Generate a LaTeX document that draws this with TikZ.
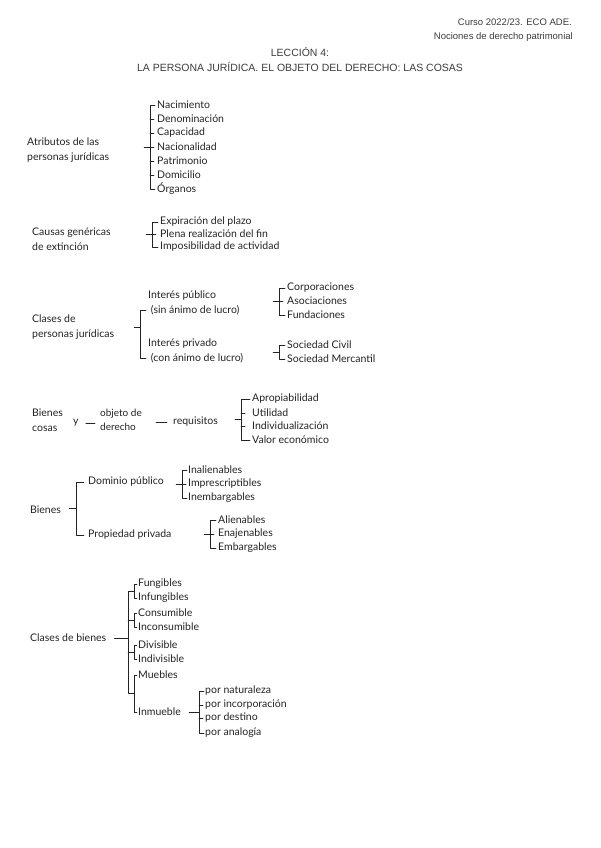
\documentclass[tikz,border=0pt]{standalone}
\usepackage{fontspec}
\setmainfont{Liberation Sans}
\newfontfamily\hand{Lato}
\usetikzlibrary{positioning, calc}
\definecolor{mygray}{RGB}{60,60,60}
\definecolor{myink}{RGB}{35,35,35}
\tikzset{
  head/.style={font=\fontsize{9.5}{11}\selectfont, text=mygray, inner sep=0pt},
  title/.style={font=\fontsize{10.5}{12}\selectfont, text=mygray, inner sep=0pt},
  topic/.style={font=\hand\fontsize{10.5}{14.5}\selectfont, text=myink,
    align=left, anchor=west, inner sep=0pt},
  item/.style={font=\hand\fontsize{10.5}{13}\selectfont, text=myink,
    anchor=west, inner sep=0pt},
  brk/.style={line width=0.5pt, color=myink, line cap=round, line join=round}
}

\begin{document}
\begin{tikzpicture}[x=1pt, y=-1pt]
  \useasboundingbox (0,0) rectangle (600,848);

  % Header
  \node[head, anchor=east] (curso) at (572,22) {Curso 2022/23. ECO ADE.};
  \node[head, anchor=east] (noc) at (573,37) {Nociones de derecho patrimonial};
  \node[title] (lec) at (300,52) {LECCIÓN 4:};
  \node[title] (tit) at (300,67) {LA PERSONA JURÍDICA. EL OBJETO DEL DERECHO: LAS COSAS};

  % Atributos
  \node[topic] (atr) at (27,150) {Atributos de las\\personas jurídicas};
  \node[item] (nac) at (157,105) {Nacimiento};
  \node[item] (den) at (157,119) {Denominación};
  \node[item] (cap) at (157,133) {Capacidad};
  \node[item] (nal) at (157,147) {Nacionalidad};
  \node[item] (pat) at (157,161) {Patrimonio};
  \node[item] (dom) at (157,175) {Domicilio};
  \node[item] (org) at (157,189) {Órganos};
  \draw[brk] ([xshift=-2pt]nac.west) -- ++(-5,0) |- ([xshift=-2pt]org.west);
  \draw[brk] ([xshift=-7pt]nal.west) -- ++(-6,0);
  \draw[brk] ([xshift=-7pt]den.west) -- ++(4,0);
  \draw[brk] ([xshift=-7pt]cap.west) -- ++(4,0);
  \draw[brk] ([xshift=-7pt]nal.west) -- ++(4,0);
  \draw[brk] ([xshift=-7pt]pat.west) -- ++(4,0);
  \draw[brk] ([xshift=-7pt]dom.west) -- ++(4,0);

  % Causas de extincion
  \node[topic] (cau) at (32,239) {Causas genéricas\\de extinción};
  \node[item] (exp) at (160,222) {Expiración del plazo};
  \node[item] (ple) at (160,234) {Plena realización del fin};
  \node[item] (imp) at (160,247) {Imposibilidad de actividad};
  \draw[brk] ([xshift=-2pt]exp.west) -- ++(-6,0) |- ([xshift=-2pt]imp.west);
  \draw[brk] ([xshift=-8pt]ple.west) -- ++(-6,0);
  \draw[brk] ([xshift=-8pt]ple.west) -- ++(4,0);

  % Clases de personas juridicas
  \node[topic] (cpj) at (32,327) {Clases de\\personas jurídicas};
  \node[topic] (ipu) at (148,303) {Interés público\\\ (sin ánimo de lucro)};
  \node[topic] (ipr) at (148,351) {Interés privado\\\ (con ánimo de lucro)};
  \draw[brk] ([xshift=-2pt,yshift=-7pt]ipu.west) -- ++(-6,0) |- ([xshift=-2pt,yshift=-7pt]ipr.west);
  \draw[brk] ($([xshift=-8pt]ipu.west)!0.5!([xshift=-8pt]ipr.west)$) -- ++(-6,0);
  \node[item] (cor) at (287,288) {Corporaciones};
  \node[item] (aso) at (287,301) {Asociaciones};
  \node[item] (fun) at (287,315) {Fundaciones};
  \draw[brk] ([xshift=-2pt]cor.west) -- ++(-6,0) |- ([xshift=-2pt]fun.west);
  \draw[brk] ([xshift=-8pt]aso.west) -- ++(-6,0);
  \draw[brk] ([xshift=-8pt]aso.west) -- ++(4,0);
  \node[item] (sci) at (287,345) {Sociedad Civil};
  \node[item] (sme) at (287,359) {Sociedad Mercantil};
  \draw[brk] ([xshift=-2pt]sci.west) -- ++(-6,0) |- ([xshift=-2pt]sme.west);
  \draw[brk] ($([xshift=-8pt]sci.west)!0.5!([xshift=-8pt]sme.west)$) -- ++(-6,0);

  % Bienes y cosas
  \node[topic] (bco) at (32,420) {Bienes\\cosas};
  \node[item] (yy) at (73,423) {y};
  \node[topic, font=\hand\fontsize{10}{13.5}\selectfont] (obj) at (100,420) {objeto de\\derecho};
  \node[item] (req) at (173,422) {requisitos};
  \draw[brk] ([xshift=7pt]yy.east) -- ([xshift=-5pt]yy.east -| obj.west);
  \draw[brk] ([xshift=14pt]req.west -| obj.east) -- ([xshift=-6pt]req.west);
  \node[item] (apr) at (252,399) {Apropiabilidad};
  \node[item] (uti) at (252,413) {Utilidad};
  \node[item] (ind) at (252,426) {Individualización};
  \node[item] (val) at (252,440) {Valor económico};
  \draw[brk] ([xshift=-2pt]apr.west) -- ++(-9,0) |- ([xshift=-2pt]val.west);
  \draw[brk] ($([xshift=-11pt]uti.west)!0.5!([xshift=-11pt]ind.west)$) -- ++(-6,0);
  \draw[brk] ([xshift=-11pt]uti.west) -- ++(4,0);
  \draw[brk] ([xshift=-11pt]ind.west) -- ++(4,0);

  % Bienes: dominio publico y propiedad privada
  \node[item] (bie) at (30,510) {Bienes};
  \node[item] (dpu) at (88,482) {Dominio público};
  \node[item] (ppr) at (88,535) {Propiedad privada};
  \draw[brk] ([xshift=-4pt]dpu.west) -- ++(-8,0) |- ([xshift=-4pt]ppr.west);
  \draw[brk] ($([xshift=-12pt]dpu.west)!0.5!([xshift=-12pt]ppr.west)$) -- ++(-7,0);
  \node[item] (ina) at (188,470) {Inalienables};
  \node[item] (ipe) at (188,484) {Imprescriptibles};
  \node[item] (ine) at (188,498) {Inembargables};
  \draw[brk] ([xshift=-1pt]ina.west) -- ++(-5,0) |- ([xshift=-1pt]ine.west);
  \draw[brk] ([xshift=-6pt]ipe.west) -- ++(-6,0);
  \draw[brk] ([xshift=-6pt]ipe.west) -- ++(4,0);
  \node[item] (ali) at (218,520) {Alienables};
  \node[item] (ena) at (218,534) {Enajenables};
  \node[item] (emb) at (218,548) {Embargables};
  \draw[brk] ([xshift=-2pt]ali.west) -- ++(-6,0) |- ([xshift=-2pt]emb.west);
  \draw[brk] ([xshift=-8pt]ena.west) -- ++(-6,0);
  \draw[brk] ([xshift=-8pt]ena.west) -- ++(4,0);

  % Clases de bienes
  \node[item] (cbi) at (30,638) {Clases de bienes};
  \node[item] (fgi) at (138,584) {Fungibles};
  \node[item] (ifg) at (138,598) {Infungibles};
  \node[item] (cns) at (138,613) {Consumible};
  \node[item] (ics) at (138,627) {Inconsumible};
  \node[item] (dvi) at (138,645) {Divisible};
  \node[item] (idv) at (138,659) {Indivisible};
  \node[item] (mue) at (138,675) {Muebles};
  \node[item] (inm) at (138,712) {Inmueble};
  \draw[brk] ([xshift=-1pt]fgi.west) -- ++(-3,0) |- ([xshift=-1pt]ifg.west);
  \draw[brk] ([xshift=-1pt]cns.west) -- ++(-3,0) |- ([xshift=-1pt]ics.west);
  \draw[brk] ([xshift=-1pt]dvi.west) -- ++(-3,0) |- ([xshift=-1pt]idv.west);
  \draw[brk] ([xshift=-1pt]mue.west) -- ++(-3,0) |- ([xshift=-1pt]inm.west);
  \draw[brk] ($([xshift=-4pt]fgi.west)!0.5!([xshift=-4pt]ifg.west)$) -- ++(-6,0)
    |- ($([xshift=-4pt]mue.west)!0.5!([xshift=-4pt]inm.west)$);
  \draw[brk] ($([xshift=-4pt]cns.west)!0.5!([xshift=-4pt]ics.west)$) -- ++(-6,0);
  \draw[brk] ($([xshift=-4pt]dvi.west)!0.5!([xshift=-4pt]idv.west)$) -- ++(-6,0);
  \draw[brk] ([xshift=8pt]cbi.east) -- ([xshift=-10pt]cbi.east -| fgi.west);
  \node[item] (nat) at (205,691) {por naturaleza};
  \node[item] (inc) at (205,705) {por incorporación};
  \node[item] (des) at (205,718) {por destino};
  \node[item] (ana) at (205,733) {por analogía};
  \draw[brk] ([xshift=-1pt]nat.west) -- ++(-5,0) |- ([xshift=-1pt]ana.west);
  \draw[brk] ([xshift=-6pt]inc.west) -- ++(4,0);
  \draw[brk] ([xshift=-6pt]des.west) -- ++(4,0);
  \draw[brk] ([xshift=-6pt]inm.east -| nat.west) -- ([xshift=8pt]inm.east);
\end{tikzpicture}
\end{document}
